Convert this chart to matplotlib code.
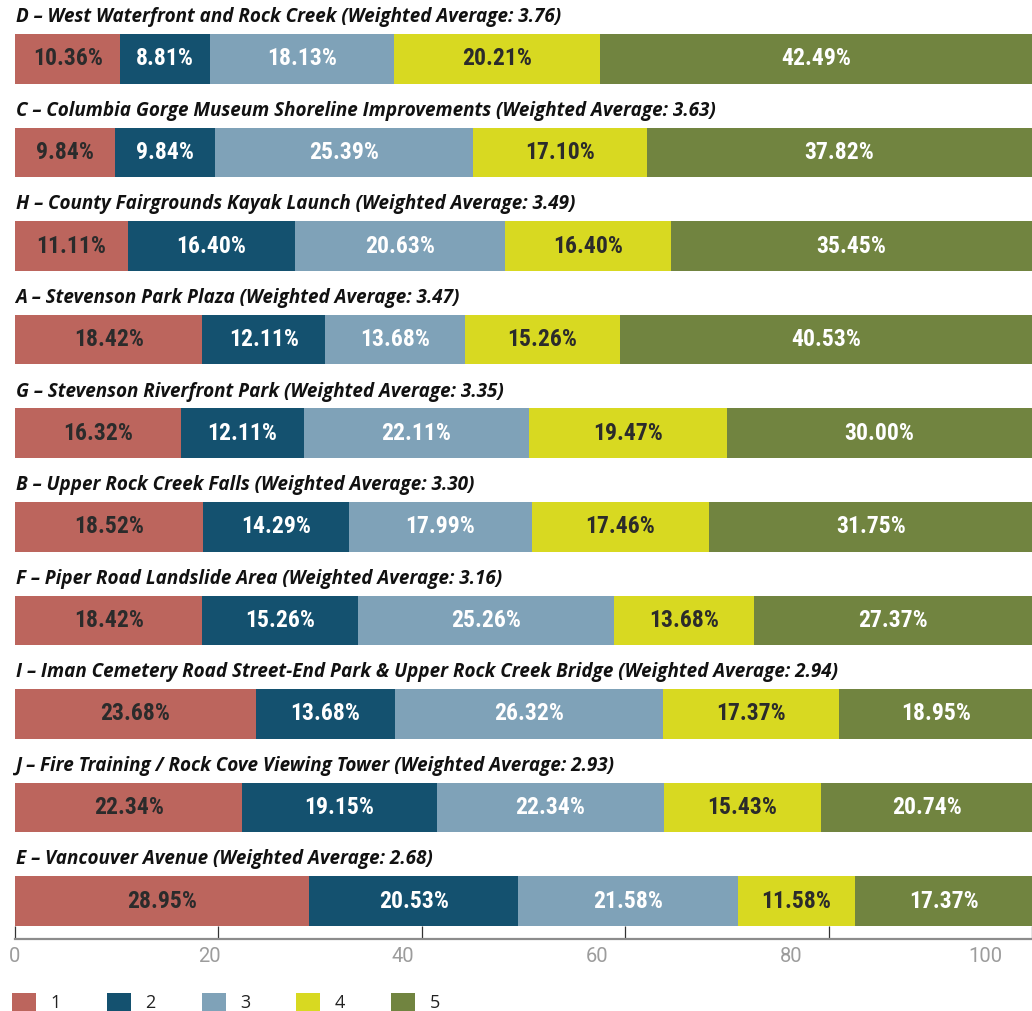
import matplotlib

matplotlib.use("Agg")

import matplotlib.pyplot as plt
from matplotlib.patches import Patch

# data, top row first
projects = [
    "D – West Waterfront and Rock Creek",
    "C – Columbia Gorge Museum Shoreline Improvements",
    "H – County Fairgrounds Kayak Launch",
    "A – Stevenson Park Plaza",
    "G – Stevenson Riverfront Park",
    "B – Upper Rock Creek Falls",
    "F – Piper Road Landslide Area",
    "I – Iman Cemetery Road Street-End Park & Upper Rock Creek Bridge",
    "J – Fire Training / Rock Cove Viewing Tower",
    "E – Vancouver Avenue",
]
weighted_avg = [3.76, 3.63, 3.49, 3.47, 3.35, 3.30, 3.16, 2.94, 2.93, 2.68]

score_1 = [10.36, 9.84, 11.11, 18.42, 16.32, 18.52, 18.42, 23.68, 22.34, 28.95]
score_2 = [8.81, 9.84, 16.40, 12.11, 12.11, 14.29, 15.26, 13.68, 19.15, 20.53]
score_3 = [18.13, 25.39, 20.63, 13.68, 22.11, 17.99, 25.26, 26.32, 22.34, 21.58]
score_4 = [20.21, 17.10, 16.40, 15.26, 19.47, 17.46, 13.68, 17.37, 15.43, 11.58]
score_5 = [42.49, 37.82, 35.45, 40.53, 30.00, 31.75, 27.37, 18.95, 20.74, 17.37]

score_labels = ["1", "2", "3", "4", "5"]
tick_values = [0, 20, 40, 60, 80, 100]

colors = ["#bc655d", "#14516f", "#7fa2b8", "#d8d921", "#718440"]
text_colors = ["#2b2b2b", "white", "white", "#2b2b2b", "white"]

W, H = 1032, 1011
fig = plt.figure(figsize=(W / 100, H / 100), dpi=100)
ax = fig.add_axes([15 / W, 1 - 939 / H, 1 - 15 / W, 939 / H])

rows = list(range(len(projects)))
bar_h = 0.53
series = [score_1, score_2, score_3, score_4, score_5]
left = [0.0] * len(projects)
value_font = ["Roboto Condensed", "Roboto", "DejaVu Sans"]

for k, vals in enumerate(series):
    ax.barh(rows, vals, left=left, height=bar_h, color=colors[k], linewidth=0)
    for r, (l, v) in enumerate(zip(left, vals)):
        ax.text(l + v / 2, r, f"{v:.2f}%", ha="center", va="center",
                fontsize=17, fontweight="bold", family=value_font,
                color=text_colors[k])
    left = [l + v for l, v in zip(left, vals)]

for r, (name, avg) in enumerate(zip(projects, weighted_avg)):
    ax.text(0.05, r - bar_h / 2 - 0.18, f"{name} (Weighted Average: {avg:.2f})",
            ha="left", va="center", fontsize=13.6, fontweight="bold",
            fontstyle="italic", family=["Open Sans", "DejaVu Sans"], color="#111111")

ax.set_xlim(0, 99.1)
ax.set_ylim(9.406, -0.63)

for side in ["top", "right", "left"]:
    ax.spines[side].set_visible(False)
ax.spines["bottom"].set_color("#8c8c8c")
ax.spines["bottom"].set_linewidth(1.6)
ax.set_yticks([])
ax.set_xticks(tick_values)
ax.set_xticklabels([])
ax.tick_params(axis="x", direction="in", length=9.5, width=0.9, color="#333333")

# labels sit on their own scale, as in the original
ax2 = ax.twiny()
ax2.set_xlim(0, 104.85)
ax2.xaxis.set_ticks_position("bottom")
ax2.xaxis.set_label_position("bottom")
ax2.set_xticks(tick_values)
ax2.set_xticklabels([str(t) for t in tick_values])
ax2.tick_params(axis="x", length=0, pad=6, labelsize=14.5, labelcolor="#9c9c9c")
for lab in ax2.get_xticklabels():
    lab.set_family(["Roboto", "DejaVu Sans"])
for s in ax2.spines.values():
    s.set_visible(False)

handles = [Patch(facecolor=c, edgecolor="none") for c in colors]
leg = fig.legend(handles, score_labels, loc="lower left", bbox_to_anchor=(12 / W, -1 / H),
                 ncol=5, frameon=False, fontsize=13, handlelength=1.33, handleheight=1.22,
                 handletextpad=0.8, columnspacing=2.55, borderaxespad=0, borderpad=0,
                 labelcolor="#222222")
for t in leg.get_texts():
    t.set_family(["Open Sans", "DejaVu Sans"])

fig.savefig("out.png", dpi=100, facecolor="white")
plt.close(fig)
